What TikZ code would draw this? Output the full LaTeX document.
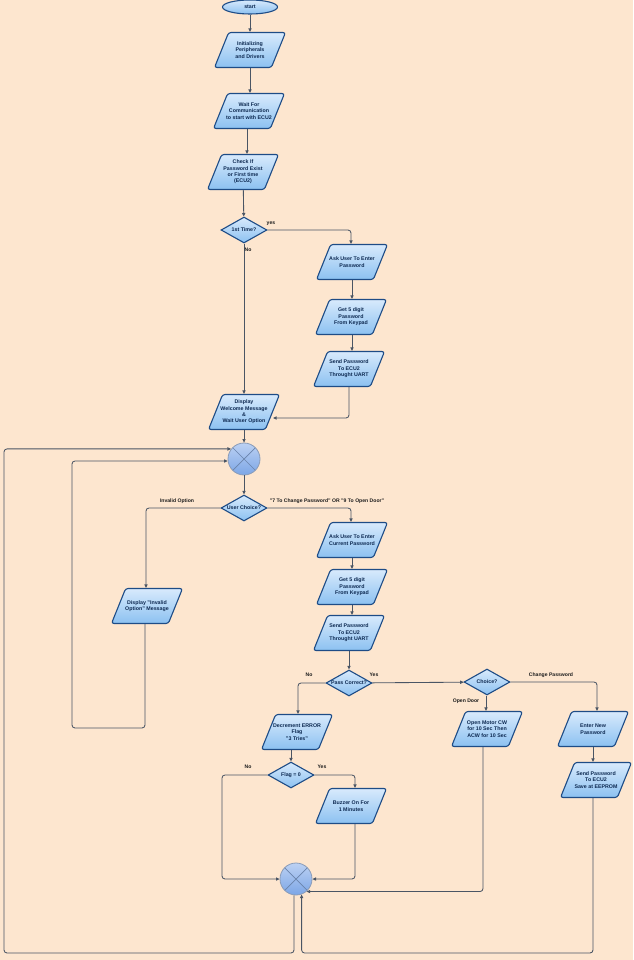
\documentclass[tikz,border=0pt]{standalone}
\usepackage{fontspec}
\setmainfont{Liberation Sans}
\usetikzlibrary{shapes.geometric,arrows.meta,calc}

\definecolor{paper}{HTML}{FDE6CF}
\definecolor{boxtop}{HTML}{D8EAFC}
\definecolor{boxbot}{HTML}{8CC1F1}
\definecolor{boxline}{HTML}{1E4C86}
\definecolor{boxtext}{HTML}{0E2A52}
\definecolor{jtop}{HTML}{BCD1F3}
\definecolor{jbot}{HTML}{7CA6E6}
\definecolor{jline}{HTML}{8A9CB8}
\definecolor{jcross}{HTML}{6A84AC}
\definecolor{wire}{HTML}{4A5564}
\definecolor{lbltext}{HTML}{1C1C1C}

\newcommand\boxfont{\fontsize{5.3}{6.4}\selectfont\bfseries}
\newcommand\lblfont{\fontsize{5.1}{6}\selectfont\bfseries}

\begin{document}
\begin{tikzpicture}[x=1pt,y=-1pt,
  % slanted process box: fixed 71 x 35 outline, text laid on top
  proc/.style={trapezium, trapezium left angle=68, trapezium right angle=112,
    trapezium stretches body=true, minimum width=71pt,
    inner xsep=0pt, inner ysep=1pt, rounded corners=2.5pt, draw=boxline, line width=1.1pt,
    top color=boxtop, bottom color=boxbot,
    node contents={\rule{0pt}{33pt}},
    label={[font=\boxfont, text=boxtext, align=center]center:#1}},
  term/.style={ellipse, minimum width=55pt, minimum height=14pt, inner sep=0pt,
    draw=boxline, line width=1.1pt, top color=boxtop, bottom color=boxbot,
    font=\boxfont, text=boxtext},
  dec/.style={diamond, minimum width=46pt, minimum height=26pt, inner sep=0pt,
    draw=boxline, line width=1.1pt, top color=boxtop, bottom color=boxbot,
    node contents={},
    label={[font=\boxfont, text=boxtext]center:#1}},
  junc/.style={circle, minimum size=32pt, inner sep=0pt, draw=jline, line width=0.8pt,
    top color=jtop, bottom color=jbot,
    path picture={\draw[jcross, line width=0.7pt]
      (path picture bounding box.north west) -- (path picture bounding box.south east)
      (path picture bounding box.north east) -- (path picture bounding box.south west);}},
  arr/.style={draw=wire, line width=0.85pt, rounded corners=3pt,
    -{Triangle[length=3.6pt,width=3.2pt]}},
  lbl/.style={font=\lblfont, text=lbltext, inner sep=0pt}
]
\useasboundingbox (0,0) rectangle (633,960);
\fill[paper] (0,0) rectangle (633,960);

% main column
\node[term] (start) at (250,7) {start};
\node (init) at (250,50) [proc={Initializing\\Peripherals\\and Drivers}];
\node (wait) at (249,111) [proc={Wait For\\Communication\\to start with ECU2}];
\node (check) at (243,172) [proc={Check If\\Password Exist\\or First time\\(ECU2)}];
\node (d1) at (244,230) [dec={1st Time?}];

% first-time password setup
\node (ask1) at (352,262) [proc={Ask User To Enter\\Password}];
\node (get1) at (351,317) [proc={Get 5 digit\\Password\\From Keypad}];
\node (send1) at (349,369) [proc={Send Password\\To ECU2\\Throught UART}];

\node (disp) at (244,412) [proc={Display\\Welcome Message\\\&\\Wait User Option}];
\node[junc] (c1) at (244,459) {};
\node (d2) at (244,508) [dec={User Choice?}];

% option handling
\node (inv) at (147,606) [proc={Display "Invalid\\Option" Message}];
\node (ask2) at (352,540) [proc={Ask User To Enter\\Current Password}];
\node (get2) at (352,587) [proc={Get 5 digit\\Password\\From Keypad}];
\node (send2) at (349,633) [proc={Send Password\\To ECU2\\Throught UART}];
\node (d3) at (349,683) [dec={Pass Correct?}];

% wrong password branch
\node (decr) at (297,732) [proc={Decrement ERROR\\Flag\\"3 Tries"}];
\node (d4) at (291,775) [dec={Flag = 0}];
\node (buz) at (351,806) [proc={Buzzer On For\\1 Minutes}];
\node[junc] (c2) at (296,879) {};

% correct password branch
\node (d5) at (487,682) [dec={Choice?}];
\node (motor) at (487,729) [proc={Open Motor CW\\for 10 Sec Then\\ACW for 10 Sec}];
\node (newp) at (593,729) [proc={Enter New\\Password}];
\node (save) at (596,780) [proc={Send Password\\To ECU2\\Save at EEPROM}];

% helper points for the routed loops
\coordinate (jl) at (222,879);
\coordinate (bR) at (302,953);
\coordinate (oL) at (4,953);
\coordinate (iL) at (72,728);

% connectors
\draw[arr] (start) -- (init);
\draw[arr] (init.south) -- (init.south |- wait.north);
\draw[arr] ([xshift=-2pt]wait.south) -- ([xshift=-2pt]wait.south |- check.north);
\draw[arr] (check) -- (d1);
\draw[arr] (d1) -- (disp);
\draw[arr] (d1.east) -| ([xshift=-1pt]ask1.north);
\draw[arr] (ask1.south) -- (ask1.south |- get1.north);
\draw[arr] ([xshift=1pt]get1.south) -- ([xshift=1pt]get1.south |- send1.north);
\draw[arr] (send1.south) |- ([yshift=-6pt]disp.east);
\draw[arr] (disp) -- (c1);
\draw[arr] (c1) -- (d2);
\draw[arr] (d2.west) -| ([xshift=-1pt]inv.north);
\draw[arr] (d2.east) -| ([xshift=-1pt]ask2.north);
\draw[arr] (ask2.south) -- (ask2.south |- get2.north);
\draw[arr] (get2.south) -- (get2.south |- send2.north);
\draw[arr] (send2) -- (d3);
\draw[arr] (d3.west) -| ([xshift=1pt]decr.north);
\draw[arr] (d3) -- (d5);
\draw[arr] ([xshift=-1pt]d5.south) -- ([xshift=-1pt]d5.south |- motor.north);
\draw[arr] (d5.east) -| ([xshift=4pt]newp.north);
\draw[arr] (newp.south) -- (newp.south |- save.north);
\draw[arr] (d4.north |- decr.south) -- (d4.north);
\draw[arr] (d4.west) -| (jl) -- (c2.west);
\draw[arr] (d4.east) -| ([xshift=4pt]buz.north);
\draw[arr] ([xshift=4pt]buz.south) |- (c2.east);
\draw[arr] ([xshift=-4pt]motor.south) |- (c2.-50);
\draw[arr] ([xshift=-3pt]save.south) |- (c2.-70 |- bR) -- (c2.-70);
\draw[arr] ([xshift=-2pt]c2.south) |- (oL) |- (c1.142);
\draw[arr] ([xshift=-2pt]inv.south) |- (iL) |- (c1.187);

% branch labels
\node[lbl] (lyes1) at (271,224) {yes};
\node[lbl] (lno1) at (248,250) {No};
\node[lbl] (linv) at (177,501) {Invalid Option};
\node[lbl] (lopt) at (327,501) {"7 To Change Password" OR "9 To Open Door"};
\node[lbl] (lno3) at (309,675) {No};
\node[lbl] (lyes3) at (374,675) {Yes};
\node[lbl] (lopen) at (466,701) {Open Door};
\node[lbl] (lchg) at (551,675) {Change Password};
\node[lbl] (lno4) at (248,767) {No};
\node[lbl] (lyes4) at (322,767) {Yes};
\end{tikzpicture}
\end{document}
